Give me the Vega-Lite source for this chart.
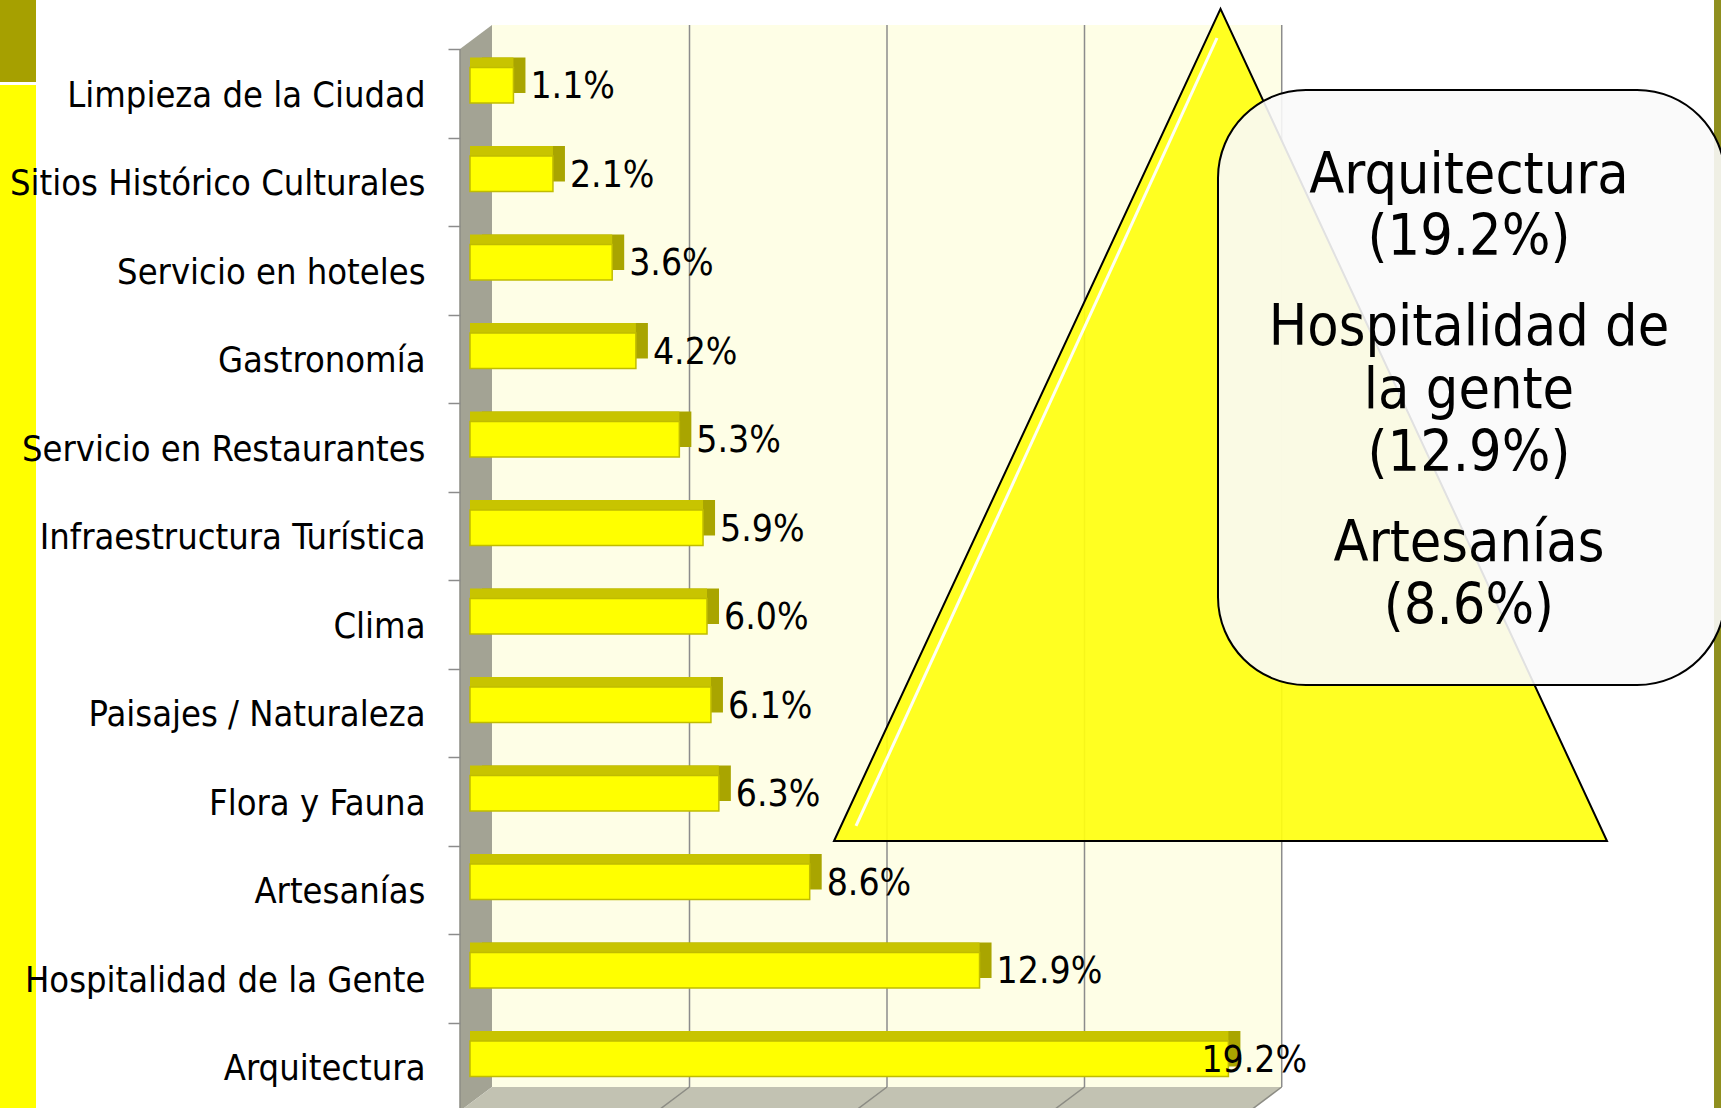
{
  "$schema": "https://vega.github.io/schema/vega-lite/v6.json",
  "width": 790,
  "height": 1062,
  "padding": {"left": 470, "top": 41, "right": 461, "bottom": 5},
  "autosize": {"type": "none"},
  "background": "white",
  "config": {"view": {"stroke": null}, "font": "DejaVu Sans Condensed"},
  "resolve": {"scale": {"y": "independent"}},
  "datasets": {
    "bars": [
      {"cat": "Limpieza de la Ciudad", "value": 0.011},
      {"cat": "Sitios Histórico Culturales", "value": 0.021},
      {"cat": "Servicio en hoteles", "value": 0.036},
      {"cat": "Gastronomía", "value": 0.042},
      {"cat": "Servicio en Restaurantes", "value": 0.053},
      {"cat": "Infraestructura Turística", "value": 0.059},
      {"cat": "Clima", "value": 0.060},
      {"cat": "Paisajes / Naturaleza", "value": 0.061},
      {"cat": "Flora y Fauna", "value": 0.063},
      {"cat": "Artesanías", "value": 0.086},
      {"cat": "Hospitalidad de la Gente", "value": 0.129},
      {"cat": "Arquitectura", "value": 0.192}
    ]
  },
  "layer": [
    {
      "data": {"values": [{"x1": -0.118987, "x2": -0.109873, "y1": -0.4633, "y2": 0.4633}]},
      "mark": {"type": "rect", "color": "#a6a000"},
      "encoding": {
        "x": {"field": "x1", "type": "quantitative", "scale": {"domain": [0, 0.2], "nice": false}, "axis": null},
        "x2": {"field": "x2"},
        "y": {"field": "y1", "type": "quantitative", "scale": {"domain": [0, 12], "reverse": true, "nice": false, "zero": false}, "axis": null},
        "y2": {"field": "y2"}
      }
    },
    {
      "data": {"values": [{"x1": -0.118987, "x2": -0.109873, "y1": 0.4972, "y2": 12.0565}]},
      "mark": {"type": "rect", "color": "#ffff00"},
      "encoding": {
        "x": {"field": "x1", "type": "quantitative", "scale": {"domain": [0, 0.2], "nice": false}, "axis": null},
        "x2": {"field": "x2"},
        "y": {"field": "y1", "type": "quantitative", "scale": {"domain": [0, 12], "reverse": true, "nice": false, "zero": false}, "axis": null},
        "y2": {"field": "y2"}
      }
    },
    {
      "data": {"values": [{"x1": 0.31494, "x2": 0.33, "y1": -0.4633, "y2": 12.0565}]},
      "mark": {"type": "rect", "color": "#8f8f1f"},
      "encoding": {
        "x": {"field": "x1", "type": "quantitative", "scale": {"domain": [0, 0.2], "nice": false}, "axis": null},
        "x2": {"field": "x2"},
        "y": {"field": "y1", "type": "quantitative", "scale": {"domain": [0, 12], "reverse": true, "nice": false, "zero": false}, "axis": null},
        "y2": {"field": "y2"}
      }
    },
    {
      "data": {"values": [{"x1": 0.00557, "x2": 0.2055, "y1": -0.1808, "y2": 11.819}]},
      "mark": {"type": "rect", "color": "#fefee6"},
      "encoding": {
        "x": {"field": "x1", "type": "quantitative", "scale": {"domain": [0, 0.2], "nice": false}, "axis": null},
        "x2": {"field": "x2"},
        "y": {"field": "y1", "type": "quantitative", "scale": {"domain": [0, 12], "reverse": true, "nice": false, "zero": false}, "axis": null},
        "y2": {"field": "y2"}
      }
    },
    {
      "data": {"values": [
        {"x1": 0.05557, "x2": 0.05557, "y1": -0.1808, "y2": 11.819},
        {"x1": 0.10557, "x2": 0.10557, "y1": -0.1808, "y2": 11.819},
        {"x1": 0.15557, "x2": 0.15557, "y1": -0.1808, "y2": 11.819},
        {"x1": 0.2055, "x2": 0.2055, "y1": -0.1808, "y2": 11.819}
      ]},
      "mark": {"type": "rule", "color": "#8c8c8c", "strokeWidth": 1.5},
      "encoding": {
        "x": {"field": "x1", "type": "quantitative", "scale": {"domain": [0, 0.2], "nice": false}, "axis": null},
        "x2": {"field": "x2"},
        "y": {"field": "y1", "type": "quantitative", "scale": {"domain": [0, 12], "reverse": true, "nice": false, "zero": false}, "axis": null},
        "y2": {"field": "y2"}
      }
    },
    {
      "data": {"values": [
        {"x1": -0.002532, "y1": 0.0904, "y2": 12.0904},
        {"x1": 0.00557, "y1": -0.1808, "y2": 11.819}
      ]},
      "mark": {"type": "area", "color": "#a3a394", "orient": "vertical"},
      "encoding": {
        "x": {"field": "x1", "type": "quantitative", "scale": {"domain": [0, 0.2], "nice": false}, "axis": null},
        "y": {"field": "y1", "type": "quantitative", "scale": {"domain": [0, 12], "reverse": true, "nice": false, "zero": false}, "axis": null},
        "y2": {"field": "y2"}
      }
    },
    {
      "data": {"values": [
        {"y1": 11.819, "x1": 0.00557, "x2": 0.2055},
        {"y1": 12.0904, "x1": -0.002532, "x2": 0.197398}
      ]},
      "mark": {"type": "area", "color": "#c2c2b2", "orient": "horizontal"},
      "encoding": {
        "y": {"field": "y1", "type": "quantitative", "scale": {"domain": [0, 12], "reverse": true, "nice": false, "zero": false}, "axis": null},
        "x": {"field": "x1", "type": "quantitative", "scale": {"domain": [0, 0.2], "nice": false}, "axis": null},
        "x2": {"field": "x2"}
      }
    },
    {
      "data": {"values": [
        {"x1": 0.05557, "x2": 0.047468, "y1": 11.819, "y2": 12.0904},
        {"x1": 0.10557, "x2": 0.097468, "y1": 11.819, "y2": 12.0904},
        {"x1": 0.15557, "x2": 0.147468, "y1": 11.819, "y2": 12.0904},
        {"x1": 0.2055, "x2": 0.197398, "y1": 11.819, "y2": 12.0904},
        {"x1": -0.002532, "x2": -0.002532, "y1": 0.0904, "y2": 12.0904}
      ]},
      "mark": {"type": "rule", "color": "#8c8c84", "strokeWidth": 1.5},
      "encoding": {
        "x": {"field": "x1", "type": "quantitative", "scale": {"domain": [0, 0.2], "nice": false}, "axis": null},
        "x2": {"field": "x2"},
        "y": {"field": "y1", "type": "quantitative", "scale": {"domain": [0, 12], "reverse": true, "nice": false, "zero": false}, "axis": null},
        "y2": {"field": "y2"}
      }
    },
    {
      "data": {"name": "bars"},
      "mark": {"type": "bar", "color": "#a9a500", "height": {"band": 0.4}, "xOffset": 12, "x2Offset": 12, "yOffset": -10},
      "encoding": {
        "x": {"field": "value", "type": "quantitative", "scale": {"domain": [0, 0.2], "nice": false}, "axis": null},
        "y": {"field": "cat", "type": "nominal", "sort": null, "scale": {"paddingInner": 0, "paddingOuter": 0}, "axis": null}
      }
    },
    {
      "data": {"name": "bars"},
      "mark": {"type": "bar", "color": "#c8c400", "height": {"band": 0.4}, "xOffset": 0, "x2Offset": 12, "yOffset": -10},
      "encoding": {
        "x": {"field": "value", "type": "quantitative", "scale": {"domain": [0, 0.2], "nice": false}, "axis": null},
        "y": {"field": "cat", "type": "nominal", "sort": null, "scale": {"paddingInner": 0, "paddingOuter": 0}, "axis": null}
      }
    },
    {
      "data": {"name": "bars"},
      "mark": {"type": "bar", "color": "#ffff00", "stroke": "#c0bc00", "strokeWidth": 1.5, "height": {"band": 0.4}},
      "encoding": {
        "x": {"field": "value", "type": "quantitative", "scale": {"domain": [0, 0.2], "nice": false}, "axis": null},
        "y": {"field": "cat", "type": "nominal", "sort": null, "scale": {"paddingInner": 0, "paddingOuter": 0},
          "axis": {"title": null, "domain": false, "grid": false, "zindex": 2, "translate": 8.5, "offset": 18, "tickSize": 12, "tickColor": "#8c8c8c", "tickWidth": 1.5, "tickBand": "extent", "labelOffset": 2, "labelPadding": 23, "labelFontSize": 36, "labelFont": "DejaVu Sans Condensed", "labelColor": "#000000", "labelLimit": 600}}
      }
    },
    {
      "data": {"name": "bars"},
      "transform": [{"filter": "datum.value < 0.19"}],
      "mark": {"type": "text", "align": "left", "baseline": "middle", "dx": 17, "dy": 2, "fontSize": 37, "font": "DejaVu Sans Condensed", "color": "#000000"},
      "encoding": {
        "x": {"field": "value", "type": "quantitative", "scale": {"domain": [0, 0.2], "nice": false}, "axis": null},
        "y": {"field": "cat", "type": "nominal", "sort": null, "scale": {"domain": ["Limpieza de la Ciudad", "Sitios Histórico Culturales", "Servicio en hoteles", "Gastronomía", "Servicio en Restaurantes", "Infraestructura Turística", "Clima", "Paisajes / Naturaleza", "Flora y Fauna", "Artesanías", "Hospitalidad de la Gente", "Arquitectura"], "paddingInner": 0, "paddingOuter": 0}, "axis": null},
        "text": {"field": "value", "type": "quantitative", "format": ".1%"}
      }
    },
    {
      "data": {"name": "bars"},
      "transform": [{"filter": "datum.value >= 0.19"}],
      "mark": {"type": "text", "align": "left", "baseline": "middle", "dx": -27, "dy": 2, "fontSize": 37, "font": "DejaVu Sans Condensed", "color": "#000000"},
      "encoding": {
        "x": {"field": "value", "type": "quantitative", "scale": {"domain": [0, 0.2], "nice": false}, "axis": null},
        "y": {"field": "cat", "type": "nominal", "sort": null, "scale": {"domain": ["Limpieza de la Ciudad", "Sitios Histórico Culturales", "Servicio en hoteles", "Gastronomía", "Servicio en Restaurantes", "Infraestructura Turística", "Clima", "Paisajes / Naturaleza", "Flora y Fauna", "Artesanías", "Hospitalidad de la Gente", "Arquitectura"], "paddingInner": 0, "paddingOuter": 0}, "axis": null},
        "text": {"field": "value", "type": "quantitative", "format": ".1%"}
      }
    },
    {
      "data": {"values": [
        {"x1": 0.092152, "y1": 9.0395, "y2": 9.0395},
        {"x1": 0.19, "y1": -0.3638, "y2": 9.0395},
        {"x1": 0.287848, "y1": 9.0395, "y2": 9.0395}
      ]},
      "mark": {"type": "area", "color": "#ffff10", "fillOpacity": 0.92, "stroke": "#000000", "strokeWidth": 2, "orient": "vertical"},
      "encoding": {
        "x": {"field": "x1", "type": "quantitative", "scale": {"domain": [0, 0.2], "nice": false}, "axis": null},
        "y": {"field": "y1", "type": "quantitative", "scale": {"domain": [0, 12], "reverse": true, "nice": false, "zero": false}, "axis": null},
        "y2": {"field": "y2"}
      }
    },
    {
      "data": {"values": [{"x1": 0.189114, "x2": 0.097722, "y1": -0.0339, "y2": 8.870}]},
      "mark": {"type": "rule", "color": "#ffffff", "strokeWidth": 3, "opacity": 0.95},
      "encoding": {
        "x": {"field": "x1", "type": "quantitative", "scale": {"domain": [0, 0.2], "nice": false}, "axis": null},
        "x2": {"field": "x2"},
        "y": {"field": "y1", "type": "quantitative", "scale": {"domain": [0, 12], "reverse": true, "nice": false, "zero": false}, "axis": null},
        "y2": {"field": "y2"}
      }
    },
    {
      "data": {"values": [{"x1": 0.189367, "x2": 0.317722, "y1": 0.5537, "y2": 7.2768}]},
      "mark": {"type": "rect", "color": "#fafafa", "fillOpacity": 0.9, "stroke": "#000000", "strokeWidth": 2, "cornerRadius": 88},
      "encoding": {
        "x": {"field": "x1", "type": "quantitative", "scale": {"domain": [0, 0.2], "nice": false}, "axis": null},
        "x2": {"field": "x2"},
        "y": {"field": "y1", "type": "quantitative", "scale": {"domain": [0, 12], "reverse": true, "nice": false, "zero": false}, "axis": null},
        "y2": {"field": "y2"}
      }
    },
    {
      "data": {"values": [
        {"t": "Arquitectura", "x1": 0.252911, "y1": 1.7175},
        {"t": "(19.2%)", "x1": 0.252911, "y1": 2.4181},
        {"t": "Hospitalidad de", "x1": 0.252911, "y1": 3.4350},
        {"t": "la gente", "x1": 0.252911, "y1": 4.1469},
        {"t": "(12.9%)", "x1": 0.252911, "y1": 4.8588},
        {"t": "Artesanías", "x1": 0.252911, "y1": 5.8757},
        {"t": "(8.6%)", "x1": 0.252911, "y1": 6.5876}
      ]},
      "mark": {"type": "text", "align": "center", "baseline": "alphabetic", "fontSize": 57, "font": "DejaVu Sans Condensed", "color": "#000000"},
      "encoding": {
        "x": {"field": "x1", "type": "quantitative", "scale": {"domain": [0, 0.2], "nice": false}, "axis": null},
        "y": {"field": "y1", "type": "quantitative", "scale": {"domain": [0, 12], "reverse": true, "nice": false, "zero": false}, "axis": null},
        "text": {"field": "t"}
      }
    }
  ]
}
